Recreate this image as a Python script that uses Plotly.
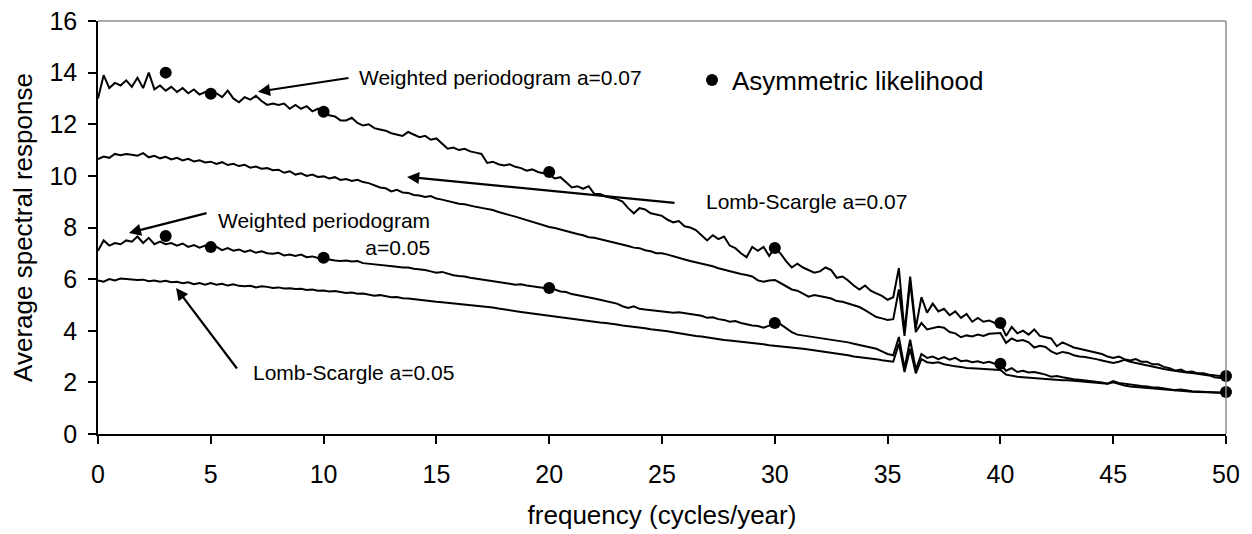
import plotly.graph_objects as go

# frequency grid (cycles/year), step 0.25
FREQ = [i / 4 for i in range(201)]

WP_A07 = [
    13.0, 13.9, 13.4, 13.6, 13.5, 13.7, 13.45, 13.8, 13.4, 14.0, 13.35, 13.5, 13.3, 13.45, 13.25, 13.4, 13.2, 13.35, 13.15, 13.25,
    13.1, 13.2, 13.05, 13.3, 13.0, 12.85, 13.05, 12.95, 13.1, 12.9, 12.75, 12.8, 12.75, 12.8, 12.6, 12.75, 12.6, 12.7, 12.5, 12.6,
    12.45, 12.35, 12.3, 12.15, 12.15, 12.25, 12.05, 11.95, 12.0, 11.85, 11.8, 11.75, 11.65, 11.6, 11.55, 11.7, 11.6, 11.5, 11.55, 11.4,
    11.45, 11.25, 11.05, 11.1, 11.0, 11.05, 10.95, 10.9, 10.85, 10.5, 10.55, 10.45, 10.4, 10.45, 10.35, 10.3, 10.2, 10.25, 10.15, 10.1,
    10.05, 9.9, 9.95, 9.75, 9.55, 9.6, 9.5, 9.6, 9.3, 9.3, 9.2, 9.15, 9.1, 9.0, 8.75, 8.55, 8.75, 8.7, 8.55, 8.5,
    8.45, 8.3, 8.2, 8.25, 8.05, 8.0, 7.9, 7.7, 7.5, 7.7, 7.55, 7.65, 7.3, 7.2, 7.0, 6.85, 7.25, 7.1, 7.25, 6.9,
    7.2, 7.0, 6.7, 6.45, 6.6, 6.45, 6.35, 6.25, 6.3, 6.45, 6.35, 6.05, 6.1, 5.95, 5.75, 5.6, 5.75, 5.55, 5.45, 5.35,
    5.2, 5.3, 6.43, 3.95, 6.1, 4.1, 5.3, 4.7, 5.05, 4.75, 4.85, 4.6, 4.75, 4.5, 4.65, 4.35, 4.5, 4.35, 4.4, 4.3,
    4.3, 3.8, 4.15, 3.9, 4.0, 3.85, 4.05, 3.8, 3.75, 3.7, 3.4, 3.55, 3.45, 3.35, 3.3, 3.25, 3.2, 3.15, 3.1, 3.0,
    2.95, 3.0, 2.9, 2.85, 2.9, 2.8, 2.8, 2.7, 2.7, 2.6, 2.55, 2.45, 2.5, 2.4, 2.42, 2.35, 2.35, 2.3, 2.28, 2.25,
    2.22,
]

LS_A07 = [
    10.65, 10.75, 10.7, 10.85, 10.8, 10.85, 10.82, 10.78, 10.88, 10.72, 10.78, 10.68, 10.74, 10.64, 10.7, 10.6, 10.66, 10.56, 10.6, 10.52,
    10.55, 10.46, 10.53, 10.42, 10.47, 10.38, 10.43, 10.32, 10.36, 10.28, 10.3, 10.22, 10.24, 10.12, 10.18, 10.05, 10.1, 10.0, 10.05, 9.96,
    9.98, 9.9, 9.95, 9.84, 9.88, 9.8, 9.85, 9.76, 9.72, 9.65, 9.55, 9.52, 9.4, 9.46, 9.36, 9.34, 9.26, 9.24, 9.18, 9.22,
    9.12, 9.08, 9.02, 8.98, 8.92, 8.9, 8.84, 8.8, 8.76, 8.72, 8.68, 8.6, 8.55, 8.48, 8.42, 8.35, 8.3, 8.22, 8.15, 8.08,
    8.02, 7.98, 7.92, 7.85, 7.8, 7.75, 7.7, 7.62, 7.6, 7.55, 7.5, 7.45, 7.4, 7.35, 7.28, 7.22, 7.2, 7.12, 7.08, 7.0,
    7.0, 6.95, 6.88, 6.8, 6.76, 6.7, 6.65, 6.58, 6.55, 6.5, 6.42, 6.36, 6.3, 6.25, 6.2, 6.16, 6.1, 5.95, 5.9, 5.95,
    5.97, 5.85, 5.72, 5.6, 5.55, 5.45, 5.32, 5.38, 5.35, 5.3, 5.25, 5.15, 5.12, 5.05, 4.98, 4.92, 4.8, 4.65, 4.53, 4.48,
    4.42, 4.45, 5.6, 3.8, 5.9, 3.95, 4.3, 4.05, 4.1, 4.15, 4.12, 3.95, 3.9, 3.75, 3.82, 3.78, 3.85, 3.8, 3.88, 3.9,
    3.91, 3.53, 3.7, 3.6, 3.64, 3.55, 3.35, 3.42, 3.37, 3.2, 3.1, 3.18, 3.14, 3.05, 3.0, 2.98, 2.95, 2.9, 2.85, 2.8,
    2.75, 2.8, 2.87, 2.8, 2.75, 2.72, 2.65, 2.6, 2.56, 2.52, 2.48, 2.44, 2.4, 2.38, 2.36, 2.33, 2.3, 2.27, 2.2, 2.17,
    2.2,
]

WP_A05 = [
    7.1, 7.5, 7.3, 7.4, 7.35, 7.5, 7.45, 7.65, 7.4, 7.6, 7.35, 7.45, 7.35, 7.4, 7.3, 7.38, 7.25, 7.32, 7.22, 7.3,
    7.2, 7.25, 7.12, 7.2, 7.1, 7.15, 7.05, 7.12, 7.02, 7.08, 7.0, 6.98, 7.02, 6.92, 6.95, 6.9, 6.95, 6.85, 6.88, 6.82,
    6.8, 6.75, 6.72, 6.7, 6.72, 6.68, 6.7, 6.62, 6.6, 6.58, 6.55, 6.52, 6.5, 6.48, 6.45, 6.45, 6.4, 6.38, 6.35, 6.3,
    6.25, 6.28, 6.2, 6.15, 6.12, 6.1, 6.05, 6.02, 6.0, 5.95, 5.92, 5.9, 5.85, 5.82, 5.78, 5.8, 5.75, 5.72, 5.7, 5.68,
    5.65, 5.6, 5.52, 5.5, 5.42, 5.38, 5.35, 5.3, 5.25, 5.2, 5.15, 5.1, 5.05, 4.95, 4.88, 4.95, 4.85, 4.82, 4.8, 4.78,
    4.75, 4.72, 4.7, 4.72, 4.68, 4.65, 4.6, 4.58, 4.5, 4.52, 4.45, 4.42, 4.35, 4.38, 4.3, 4.25, 4.2, 4.18, 4.12, 4.2,
    4.3, 4.25, 4.1, 3.95, 3.85, 3.82, 3.78, 3.75, 3.72, 3.68, 3.65, 3.62, 3.6, 3.55, 3.5, 3.45, 3.4, 3.35, 3.3, 3.2,
    3.1, 3.05, 3.76, 2.55, 3.65, 2.5, 3.1, 2.95, 3.0, 2.9, 2.98, 2.88, 2.95, 2.82, 2.85, 2.78, 2.82, 2.75, 2.8, 2.72,
    2.7, 2.45, 2.55, 2.4, 2.45, 2.38, 2.4, 2.35, 2.3, 2.22, 2.25, 2.2, 2.15, 2.12, 2.1, 2.08, 2.05, 2.02, 2.0, 1.95,
    2.05, 1.98, 1.95, 1.9, 1.88, 1.86, 1.84, 1.8, 1.8, 1.76, 1.74, 1.7, 1.72, 1.68, 1.66, 1.65, 1.64, 1.62, 1.62, 1.6,
    1.62,
]

LS_A05 = [
    5.95, 5.9, 6.0, 5.95, 6.02, 6.0, 6.0, 5.97, 5.98, 5.92, 5.95, 5.9, 5.94, 5.88, 5.9, 5.84, 5.88, 5.8, 5.85, 5.78,
    5.85, 5.78, 5.82, 5.75, 5.8, 5.74, 5.72, 5.74, 5.68, 5.72, 5.7, 5.66, 5.68, 5.64, 5.65, 5.62, 5.63, 5.58, 5.6, 5.55,
    5.56, 5.52, 5.54, 5.5, 5.46, 5.48, 5.43, 5.44, 5.4, 5.36, 5.38, 5.33, 5.3, 5.31, 5.26, 5.25, 5.22, 5.2, 5.18, 5.15,
    5.12, 5.1, 5.08, 5.06, 5.04, 5.02, 5.0, 4.98, 4.95, 4.92, 4.9, 4.86, 4.82, 4.8, 4.76, 4.73, 4.7, 4.67, 4.64, 4.61,
    4.58, 4.55, 4.52, 4.48, 4.45, 4.42, 4.4, 4.37, 4.35, 4.32, 4.3, 4.28, 4.24, 4.2, 4.18, 4.14, 4.12, 4.1, 4.06, 4.04,
    4.02, 3.98, 3.94, 3.9, 3.86, 3.84, 3.8, 3.78, 3.74, 3.7, 3.67, 3.64, 3.62, 3.6, 3.57, 3.55, 3.53, 3.5, 3.48, 3.44,
    3.42, 3.4, 3.38, 3.35, 3.33, 3.3, 3.27, 3.24, 3.2, 3.18, 3.16, 3.12, 3.08, 3.05, 3.0, 2.98, 2.96, 2.92, 2.9, 2.86,
    2.84, 2.8, 3.5, 2.4, 3.3, 2.35, 2.9, 2.78, 2.75, 2.78, 2.7, 2.65, 2.62, 2.6, 2.56, 2.55, 2.54, 2.52, 2.5, 2.5,
    2.48, 2.3, 2.25, 2.22, 2.2, 2.18, 2.17, 2.14, 2.12, 2.1, 2.1, 2.08, 2.08, 2.05, 2.04, 2.02, 2.0, 1.98, 1.97, 1.95,
    2.0, 1.93, 1.88, 1.84, 1.82, 1.8, 1.78, 1.75, 1.73, 1.71, 1.7, 1.68, 1.67, 1.65, 1.64, 1.63, 1.62, 1.61, 1.6, 1.59,
    1.6,
]

# Asymmetric likelihood points
AL_FREQ = [3, 5, 10, 20, 30, 40, 50]
AL_A07 = [14.0, 13.18, 12.48, 10.15, 7.21, 4.30, 2.25]
AL_A05 = [7.67, 7.24, 6.83, 5.66, 4.30, 2.72, 1.63]

X_TICKS = [0, 5, 10, 15, 20, 25, 30, 35, 40, 45, 50]
Y_TICKS = [0, 2, 4, 6, 8, 10, 12, 14, 16]

FONT = "Liberation Sans, Arial, sans-serif"

fig = go.Figure()
for series in (WP_A07, LS_A07, WP_A05, LS_A05):
    fig.add_trace(go.Scatter(x=FREQ, y=series, mode="lines",
                             line=dict(color="black", width=2),
                             showlegend=False, hoverinfo="skip"))

fig.add_trace(go.Scatter(
    x=AL_FREQ + [None] + AL_FREQ,
    y=AL_A07 + [None] + AL_A05,
    mode="markers", name="Asymmetric likelihood",
    marker=dict(color="black", size=12), showlegend=True, cliponaxis=False))

# annotation texts
texts = [
    dict(x=11.48, y=13.8, text="Weighted periodogram a=0.07", xanchor="left", align="left"),
    dict(x=26.86, y=8.99, text="Lomb-Scargle a=0.07", xanchor="left", align="left"),
    dict(x=14.8, y=7.73, text="Weighted periodogram<br>a=0.05", xanchor="right", align="right"),
    dict(x=6.8, y=2.4, text="Lomb-Scargle a=0.05", xanchor="left", align="left"),
]
for t in texts:
    fig.add_annotation(xref="x", yref="y", showarrow=False, yanchor="middle",
                       font=dict(family=FONT, size=21, color="black"), **t)

# arrows: (tip x, tip y, tail x, tail y)
arrows = [
    (7.09, 13.26, 11.17, 13.8),
    (13.70, 9.96, 25.62, 8.95),
    (1.37, 7.79, 4.88, 8.57),
    (3.46, 5.66, 6.21, 2.48),
]
for tx, ty, sx, sy in arrows:
    fig.add_annotation(x=tx, y=ty, ax=sx, ay=sy, xref="x", yref="y",
                       axref="x", ayref="y", text="", showarrow=True,
                       arrowhead=2, arrowsize=1.1, arrowwidth=2.2,
                       arrowcolor="black")

# plot-area border (grey top/right)
fig.add_shape(type="line", xref="paper", yref="paper", x0=0, y0=1, x1=1, y1=1,
              line=dict(color="#8c8c8c", width=1.5), layer="above")
fig.add_shape(type="line", xref="paper", yref="paper", x0=1, y0=0, x1=1, y1=1,
              line=dict(color="#8c8c8c", width=1.5), layer="above")

fig.update_layout(
    width=1244, height=526,
    margin=dict(l=90, r=26, t=13, b=100, autoexpand=False),
    paper_bgcolor="white", plot_bgcolor="white",
    font=dict(family=FONT, color="black"),
    legend=dict(x=0.5266, y=0.857, xanchor="left", yanchor="middle",
                font=dict(family=FONT, size=26, color="black"),
                bgcolor="rgba(0,0,0,0)", itemwidth=30),
    xaxis=dict(range=[0, 50], tickvals=X_TICKS, ticktext=[str(v) for v in X_TICKS],
               showgrid=False, zeroline=False, showline=True, linecolor="black",
               linewidth=1.5, ticks="outside", ticklen=8, tickwidth=1.5,
               tickcolor="black", tickfont=dict(family=FONT, size=25),
               ticklabelstandoff=9, ticklabeloverflow="allow", automargin=False,
               title=dict(text="frequency (cycles/year)",
                          font=dict(family=FONT, size=26), standoff=19)),
    yaxis=dict(range=[0, 16], tickvals=Y_TICKS, ticktext=[str(v) for v in Y_TICKS],
               showgrid=False, zeroline=False, showline=True, linecolor="black",
               linewidth=1.5, ticks="outside", ticklen=8, tickwidth=1.5,
               tickcolor="black", tickfont=dict(family=FONT, size=25),
               ticklabelstandoff=6, ticklabeloverflow="allow", automargin=False,
               title=dict(text="Average spectral response",
                          font=dict(family=FONT, size=26), standoff=19)),
)

fig.write_html("out.html")
